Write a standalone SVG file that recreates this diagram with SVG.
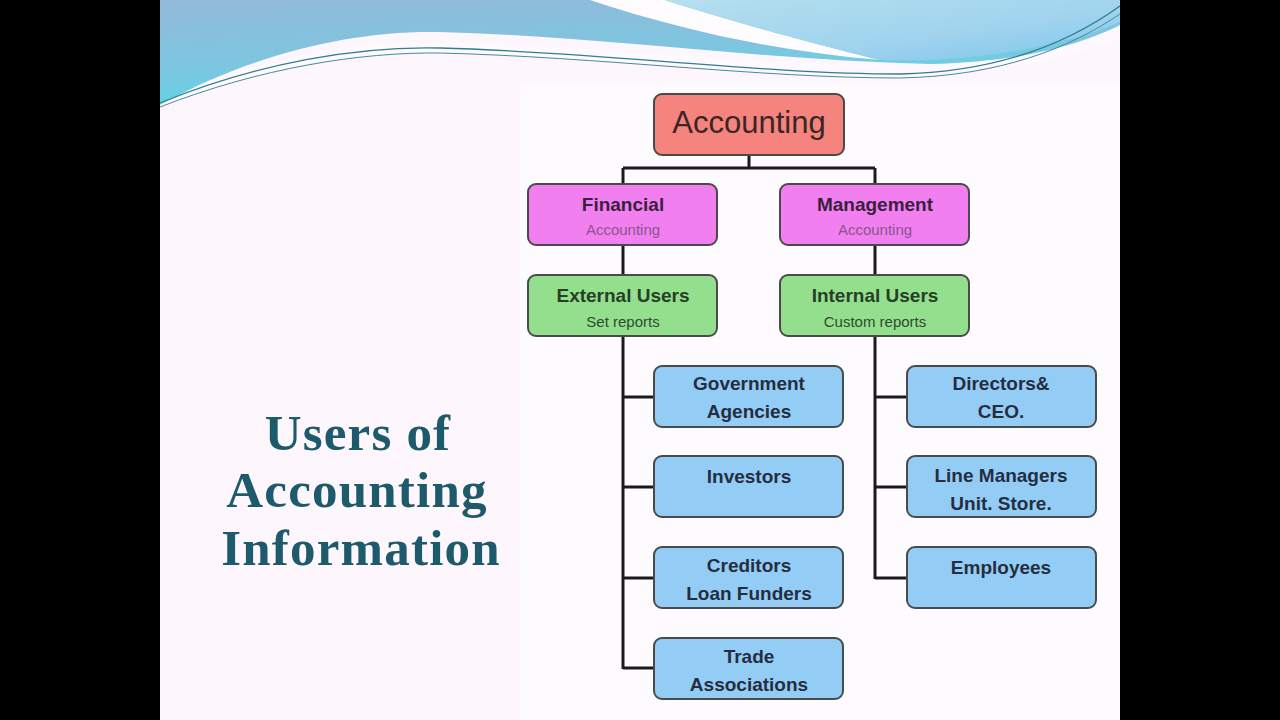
<svg xmlns="http://www.w3.org/2000/svg" width="1280" height="720" viewBox="0 0 1280 720">
<defs>
<linearGradient id="gBlue" x1="0" y1="0" x2="0.3" y2="1">
<stop offset="0" stop-color="#93b9d9"/>
<stop offset="0.6" stop-color="#7cc6e0"/>
<stop offset="1" stop-color="#5ed6e6"/>
</linearGradient>
<linearGradient id="gRight" x1="0" y1="0" x2="1" y2="1">
<stop offset="0" stop-color="#b5e0ee"/>
<stop offset="0.6" stop-color="#9fd3ee"/>
<stop offset="1" stop-color="#7ec4ea"/>
</linearGradient>
<style>
.box{stroke:#4a4a4a;stroke-width:2}
.acc{fill:#f4847d}
.mag{fill:#f27ff0}
.grn{fill:#94df8e}
.blu{fill:#93cdf5}
.t{font-family:"Liberation Sans",Arial,sans-serif;text-anchor:middle}
.main{font-weight:bold;font-size:19px}
.sub{font-size:15px}
.conn{stroke:#1a1a1a;stroke-width:3;fill:none}
</style>
</defs>
<rect x="0" y="0" width="1280" height="720" fill="#000"/>
<rect x="160" y="0" width="960" height="720" fill="#fdf6fc"/>
<rect x="520" y="85" width="600" height="635" fill="#fefbfe"/>
<g id="waves">
<path d="M160,105 C250,55 350,30 440,32 C600,36 760,60 930,64 C1020,62 1080,45 1120,25 L1120,0 L160,0 Z" fill="url(#gBlue)"/>
<path d="M160,105 C250,58 350,40 440,42 C600,46 760,66 930,66 C1010,64 1070,48 1120,28 L1120,40 C1060,60 1000,72 930,72 C760,72 600,58 440,54 C340,52 250,70 160,108 Z" fill="#fefafe" opacity="0.9"/>
<path d="M590,0 C680,30 780,52 880,60 C800,40 720,18 665,0 Z" fill="#fefcfe"/>
<path d="M665,0 C720,18 800,40 880,60 C960,64 1060,48 1120,22 L1120,0 Z" fill="url(#gRight)"/>
<path d="M160,103 C260,62 360,46 440,48 C600,52 760,74 900,74 C1000,72 1070,42 1120,6" fill="none" stroke="#2f7f8f" stroke-width="1.3"/>
<path d="M160,107 C260,68 360,52 440,53 C600,57 760,78 900,78 C1000,76 1070,48 1120,14" fill="none" stroke="#4a8a98" stroke-width="1"/>
</g>
<g id="title" font-family="'Liberation Serif','Times New Roman',serif" font-weight="bold" font-size="51" letter-spacing="1.2" fill="#1d5a6c" text-anchor="middle">
<text x="358" y="450">Users of</text>
<text x="357" y="507">Accounting</text>
<text x="361" y="565">Information</text>
</g>
<g id="connectors" class="conn">
<path class="conn" d="M749,155 V168 M623,168 H875 M623,168 V184 M875,168 V184"/>
<path class="conn" d="M623,245 V275 M875,245 V275"/>
<path class="conn" d="M623,336 V669 M623,397 H654 M623,487 H654 M623,578 H654 M623,668 H654"/>
<path class="conn" d="M875,336 V579 M875,397 H907 M875,487 H907 M875,578 H907"/>
</g>
<g id="n-accounting">
<rect class="box acc" x="654" y="94" width="190" height="61" rx="8"/>
<text class="t" x="749" y="133" font-size="31" fill="#3a2626">Accounting</text>
</g>
<g id="n-financial">
<rect class="box mag" x="528" y="184" width="189" height="61" rx="8"/>
<text class="t main" x="623" y="211" fill="#3a1f3e">Financial</text>
<text class="t sub" x="623" y="235" fill="#8a548c">Accounting</text>
</g>
<g id="n-management">
<rect class="box mag" x="780" y="184" width="189" height="61" rx="8"/>
<text class="t main" x="875" y="211" fill="#3a1f3e">Management</text>
<text class="t sub" x="875" y="235" fill="#8a548c">Accounting</text>
</g>
<g id="n-external">
<rect class="box grn" x="528" y="275" width="189" height="61" rx="8"/>
<text class="t main" x="623" y="302" fill="#263f26">External Users</text>
<text class="t sub" x="623" y="327" fill="#2f4a2f">Set reports</text>
</g>
<g id="n-internal">
<rect class="box grn" x="780" y="275" width="189" height="61" rx="8"/>
<text class="t main" x="875" y="302" fill="#263f26">Internal Users</text>
<text class="t sub" x="875" y="327" fill="#2f4a2f">Custom reports</text>
</g>
<g id="n-government">
<rect class="box blu" x="654" y="366" width="189" height="61" rx="8"/>
<text class="t main" x="749" y="390" fill="#262d40">Government</text>
<text class="t main" x="749" y="418" fill="#262d40">Agencies</text>
</g>
<g id="n-investors">
<rect class="box blu" x="654" y="456" width="189" height="61" rx="8"/>
<text class="t main" x="749" y="483" fill="#262d40">Investors</text>
</g>
<g id="n-creditors">
<rect class="box blu" x="654" y="547" width="189" height="61" rx="8"/>
<text class="t main" x="749" y="572" fill="#262d40">Creditors</text>
<text class="t main" x="749" y="600" fill="#262d40">Loan Funders</text>
</g>
<g id="n-trade">
<rect class="box blu" x="654" y="638" width="189" height="61" rx="8"/>
<text class="t main" x="749" y="663" fill="#262d40">Trade</text>
<text class="t main" x="749" y="691" fill="#262d40">Associations</text>
</g>
<g id="n-directors">
<rect class="box blu" x="907" y="366" width="189" height="61" rx="8"/>
<text class="t main" x="1001" y="390" fill="#262d40">Directors&amp;</text>
<text class="t main" x="1001" y="418" fill="#262d40">CEO.</text>
</g>
<g id="n-line">
<rect class="box blu" x="907" y="456" width="189" height="61" rx="8"/>
<text class="t main" x="1001" y="482" fill="#262d40">Line Managers</text>
<text class="t main" x="1001" y="510" fill="#262d40">Unit. Store.</text>
</g>
<g id="n-employees">
<rect class="box blu" x="907" y="547" width="189" height="61" rx="8"/>
<text class="t main" x="1001" y="574" fill="#262d40">Employees</text>
</g>
</svg>
